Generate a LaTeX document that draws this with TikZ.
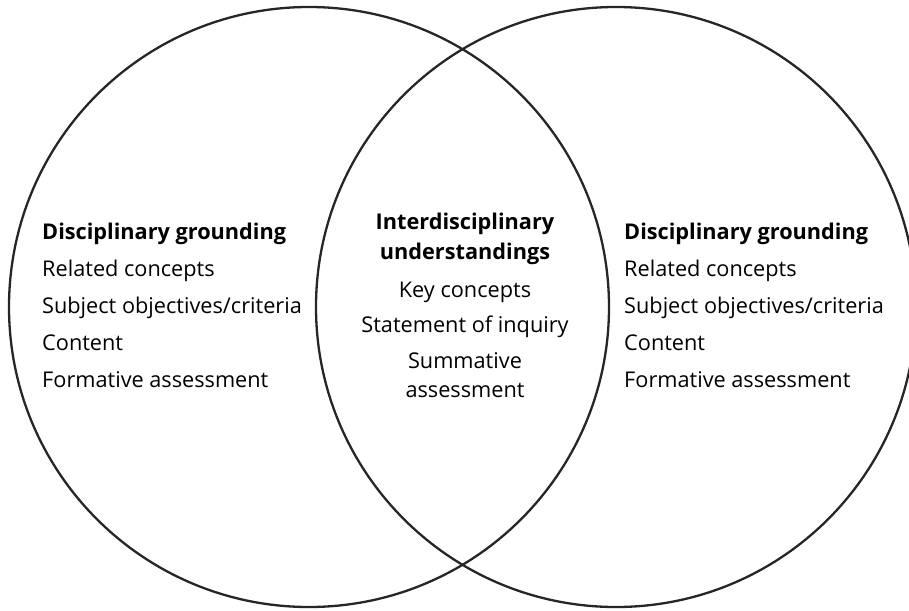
\documentclass[tikz,border=0pt]{standalone}
\usepackage{fontspec}
\setmainfont{Open Sans}
\begin{document}
\begin{tikzpicture}[x=1pt,y=-1pt,
  ring/.style={draw=black!85, line width=2.3pt},
  item/.style={inner sep=0pt, font=\fontsize{21.7}{24}\selectfont, anchor=base west},
  head/.style={item, font=\fontsize{21.7}{24}\selectfont\bfseries},
  citem/.style={item, anchor=base},
  chead/.style={head, anchor=base}]
\useasboundingbox (0,0) rectangle (909,610);
\clip (0,0) rectangle (909,610);
\node[ring, circle, minimum size=600pt, inner sep=0pt] (L) at (309,307) {};
\node[ring, circle, minimum size=600pt, inner sep=0pt] (R) at (616,307) {};
% left block
\node[head] (l1) at (42,239) {Disciplinary grounding};
\node[item] (l2) at (42,276) {Related concepts};
\node[item] (l3) at (42,313) {Subject objectives/criteria};
\node[item] (l4) at (42,350) {Content};
\node[item] (l5) at (42,387) {Formative assessment};
% right block
\node[head] (r1) at (624,239) {Disciplinary grounding};
\node[item] (r2) at (624,276) {Related concepts};
\node[item] (r3) at (624,313) {Subject objectives/criteria};
\node[item] (r4) at (624,350) {Content};
\node[item] (r5) at (624,387) {Formative assessment};
% center block
\node[chead] (c1) at (465,229) {Interdisciplinary};
\node[chead] (c2) at (465,259) {understandings};
\node[citem] (c3) at (465,297) {Key concepts};
\node[citem] (c4) at (465,332) {Statement of inquiry};
\node[citem] (c5) at (465,368) {Summative};
\node[citem] (c6) at (465,397) {assessment};
\end{tikzpicture}
\end{document}
